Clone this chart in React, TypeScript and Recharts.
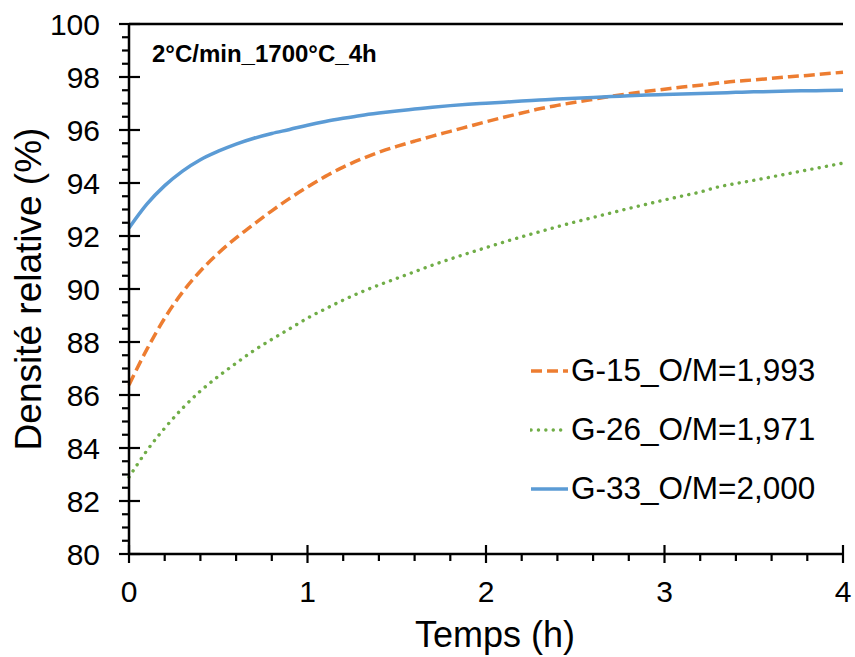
import React from "react";
import { LineChart, Line, XAxis, YAxis, ReferenceLine, Legend, Label, Customized } from "recharts";

// time in hours, one reading every 0.1 h
const temps = [
  0, 0.1, 0.2, 0.3, 0.4, 0.5, 0.6, 0.7, 0.8, 0.9, 1, 1.1, 1.2, 1.3, 1.4, 1.5, 1.6, 1.7, 1.8, 1.9, 2,
  2.1, 2.2, 2.3, 2.4, 2.5, 2.6, 2.7, 2.8, 2.9, 3, 3.1, 3.2, 3.3, 3.4, 3.5, 3.6, 3.7, 3.8, 3.9, 4,
];

const g15 = [
  86.38, 87.72, 88.9, 89.88, 90.68, 91.35, 91.93, 92.45, 92.95, 93.42, 93.85, 94.25, 94.6, 94.9, 95.16,
  95.38, 95.58, 95.77, 95.95, 96.13, 96.31, 96.48, 96.64, 96.8, 96.93, 97.05, 97.16, 97.27, 97.37,
  97.46, 97.54, 97.62, 97.69, 97.77, 97.84, 97.89, 97.95, 98.01, 98.06, 98.12, 98.18,
];

const g26 = [
  82.9, 83.9, 84.75, 85.5, 86.15, 86.7, 87.2, 87.68, 88.1, 88.5, 88.9, 89.25, 89.58, 89.88, 90.15,
  90.4, 90.65, 90.9, 91.13, 91.35, 91.56, 91.77, 91.97, 92.16, 92.35, 92.53, 92.7, 92.87, 93.04,
  93.2, 93.36, 93.51, 93.66, 93.85, 93.98, 94.1, 94.23, 94.36, 94.49, 94.62, 94.75,
];

const g33 = [
  92.3, 93.2, 93.9, 94.45, 94.88, 95.2, 95.47, 95.69, 95.87, 96.02, 96.18, 96.32, 96.44, 96.55, 96.64,
  96.72, 96.79, 96.86, 96.92, 96.97, 97.01, 97.05, 97.09, 97.13, 97.17, 97.2, 97.23, 97.26, 97.29,
  97.32, 97.34, 97.36, 97.38, 97.4, 97.42, 97.44, 97.45, 97.47, 97.48, 97.49, 97.5,
];

const xTicks = Array.from({ length: 21 }, (_, i) => Math.round(i * 2) / 10);
const yTicks = Array.from({ length: 41 }, (_, i) => 80 + i * 0.5);

const series = [
  { key: "g15", name: "G-15_O/M=1,993", color: "#ED7D31", dash: "11 5", cap: "butt" as const, width: 3.5 },
  { key: "g26", name: "G-26_O/M=1,971", color: "#70AD47", dash: "0.1 7.3", cap: "round" as const, width: 3.4 },
  { key: "g33", name: "G-33_O/M=2,000", color: "#5B9BD5", dash: undefined, cap: "butt" as const, width: 3.5 },
];

const data = temps.map((t, i) => ({ t, g15: g15[i], g26: g26[i], g33: g33[i] }));

const FONT = "'Liberation Sans', Arial, sans-serif";

const XTick = (props: any) => {
  const { x, y, payload } = props;
  const major = Number.isInteger(payload.value);
  return (
    <g>
      <line x1={x} x2={x} y1={major ? y - 9 : y} y2={major ? y + 9 : y + 7} stroke="#000" strokeWidth={2.2} />
      {major && (
        <text x={x} y={y + 48} textAnchor="middle" fontSize={30} fontFamily={FONT} fill="#000">
          {payload.value}
        </text>
      )}
    </g>
  );
};

const YTick = (props: any) => {
  const { x, y, payload } = props;
  const major = payload.value % 2 === 0;
  return (
    <g>
      <line x1={major ? x - 10 : x - 7} x2={major ? x + 11 : x} y1={y} y2={y} stroke="#000" strokeWidth={2.2} />
      {major && (
        <text x={x - 29} y={y} textAnchor="end" dominantBaseline="central" fontSize={30} fontFamily={FONT} fill="#000">
          {payload.value}
        </text>
      )}
    </g>
  );
};

const renderLegend = () => (
  <div style={{ fontFamily: FONT, fontSize: 31.5, color: "#000" }}>
    {series.map((s) => (
      <div key={s.key} style={{ display: "flex", alignItems: "center", height: 59 }}>
        <svg width={41} height={10} style={{ display: "block" }}>
          <line
            x1={1}
            x2={38}
            y1={5}
            y2={5}
            stroke={s.color}
            strokeWidth={s.width}
            strokeDasharray={s.dash}
            strokeLinecap={s.cap}
          />
        </svg>
        <span style={{ whiteSpace: "nowrap" }}>{s.name}</span>
      </div>
    ))}
  </div>
);

const Title = () => (
  <text x={152} y={62} fontSize={24} fontWeight="bold" fontFamily={FONT} fill="#000">
    2°C/min_1700°C_4h
  </text>
);

export default function App() {
  return (
    <div style={{ position: "absolute", left: 0, top: 0, background: "#fff" }}>
      <LineChart width={855} height={657} data={data} margin={{ top: 24, right: 12, bottom: 43, left: 59 }}>
        <XAxis
          dataKey="t"
          type="number"
          domain={[0, 4]}
          ticks={xTicks}
          interval={0}
          height={60}
          tickSize={0}
          tickMargin={0}
          tickLine={false}
          tick={<XTick />}
          axisLine={{ stroke: "#000", strokeWidth: 2.5 }}
        >
          <Label
            content={(p: any) => (
              <text
                x={p.viewBox.x + p.viewBox.width / 2 + 9}
                y={p.viewBox.y + 93}
                textAnchor="middle"
                fontSize={36}
                fontFamily={FONT}
                fill="#000"
              >
                Temps (h)
              </text>
            )}
          />
        </XAxis>
        <YAxis
          type="number"
          domain={[80, 100]}
          ticks={yTicks}
          interval={0}
          width={70}
          tickSize={0}
          tickMargin={0}
          tickLine={false}
          tick={<YTick />}
          axisLine={{ stroke: "#000", strokeWidth: 2.5 }}
        >
          <Label
            content={(p: any) => {
              const cy = p.viewBox.y + p.viewBox.height / 2;
              return (
                <text
                  x={28}
                  y={cy}
                  transform={`rotate(-90, 28, ${cy})`}
                  textAnchor="middle"
                  dominantBaseline="central"
                  fontSize={37}
                  fontFamily={FONT}
                  fill="#000"
                >
                  Densité relative (%)
                </text>
              );
            }}
          />
        </YAxis>
        <ReferenceLine y={100} stroke="#000" strokeWidth={2.5} />
        <Customized component={Title} />
        <Legend
          layout="horizontal"
          verticalAlign="middle"
          align="center"
          content={renderLegend}
          wrapperStyle={{ position: "absolute", left: 530, top: 341, width: 320 }}
        />
        {series.map((s) => (
          <Line
            key={s.key}
            dataKey={s.key}
            name={s.name}
            type="monotone"
            stroke={s.color}
            strokeWidth={s.width}
            strokeDasharray={s.dash}
            strokeLinecap={s.cap}
            dot={false}
            activeDot={false}
            isAnimationActive={false}
          />
        ))}
      </LineChart>
    </div>
  );
}
